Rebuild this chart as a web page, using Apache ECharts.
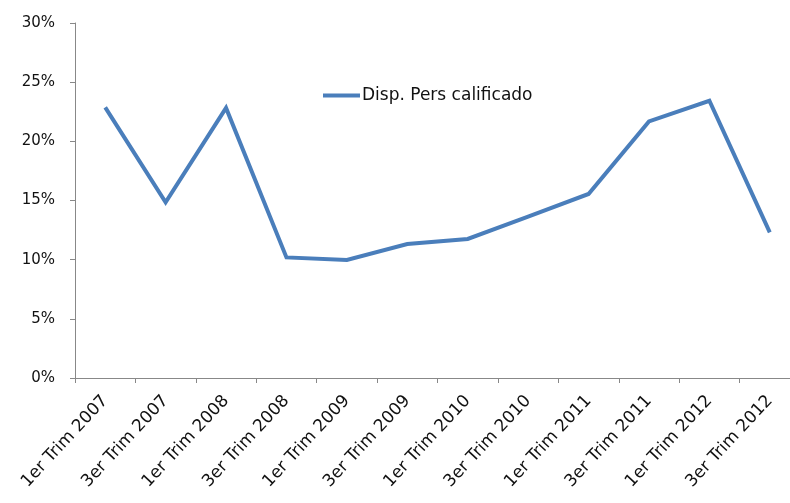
<!DOCTYPE html>
<html>
<head>
<meta charset="utf-8">
<script src="https://cdn.jsdelivr.net/npm/echarts@6/dist/echarts.min.js"></script>
<style>
html,body{margin:0;padding:0;background:#fff;overflow:hidden;width:790px;height:503px;}
#chart{width:800px;height:503px;}
</style>
</head>
<body>
<div id="chart"></div>
<script>
const categories = ["1er Trim 2007","3er Trim 2007","1er Trim 2008","3er Trim 2008","1er Trim 2009","3er Trim 2009","1er Trim 2010","3er Trim 2010","1er Trim 2011","3er Trim 2011","1er Trim 2012","3er Trim 2012"];
const seriesName = "Disp. Pers calificado";
const values = [22.87, 14.84, 22.82, 10.19, 9.97, 11.32, 11.75, 13.63, 15.55, 21.68, 23.43, 12.31];
const yTicks = [0, 5, 10, 15, 20, 25, 30];

const chart = echarts.init(document.getElementById('chart'), null, {renderer:'canvas'});
const font = 'DejaVu Sans';
chart.setOption({
  animation:false,
  backgroundColor:'#fff',
  grid:{left:75, right:0, top:23, bottom:125, containLabel:false},
  legend:{
    show:true, left:318, top:82, icon:'rect', itemWidth:37, itemHeight:4, itemGap:0,
    textStyle:{fontFamily:font, fontSize:17, color:'#111', padding:[0,0,0,-3]},
    data:[seriesName]
  },
  xAxis:{
    type:'category', data:categories, boundaryGap:true,
    axisLine:{lineStyle:{color:'#888', width:1}},
    axisTick:{show:true, length:5, alignWithLabel:false, lineStyle:{color:'#888'}},
    axisLabel:{rotate:47, interval:0, fontFamily:font, fontSize:17, color:'#111', margin:20}
  },
  yAxis:{
    type:'value', min:yTicks[0], max:yTicks[yTicks.length-1], interval:5,
    axisLine:{show:true, lineStyle:{color:'#888', width:1}},
    axisTick:{show:true, length:5, lineStyle:{color:'#888'}},
    splitLine:{show:false},
    axisLabel:{fontFamily:font, fontSize:15, color:'#111', margin:20, formatter: v => v + '%'}
  },
  series:[{
    name:seriesName, type:'line', data:values, showSymbol:false, symbol:'none',
    lineStyle:{color:'#4a7ebb', width:4, join:'miter'},
    itemStyle:{color:'#4a7ebb'}
  }]
});
</script>
</body>
</html>
